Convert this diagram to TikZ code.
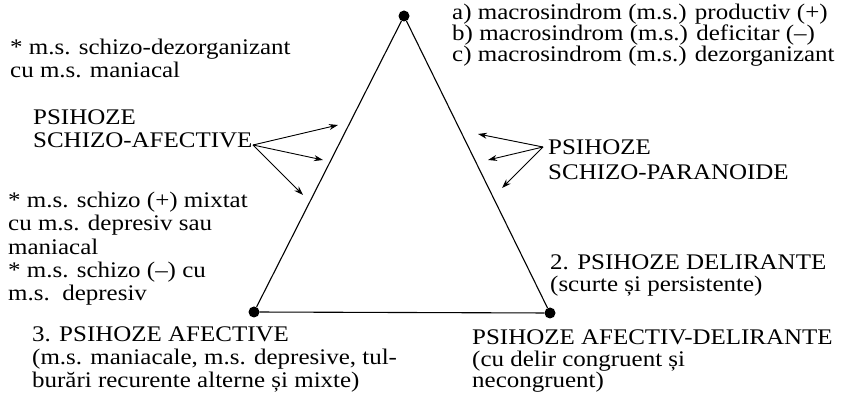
\documentclass[tikz,border=0pt]{standalone}
\usepackage{fontspec}
\setmainfont[FakeStretch=1.12]{Liberation Serif}
\usetikzlibrary{arrows.meta}

\tikzset{
  vertex/.style={circle, fill=black, inner sep=0pt, minimum size=11pt},
  lbl/.style={anchor=base west, inner sep=0pt, align=left,
              font=\fontsize{22.3}{23}\selectfont},
  side/.style={line width=1.1pt},
  pointer/.style={-{Stealth[length=9pt,width=6pt]}, line width=0.9pt},
}

\begin{document}
\begin{tikzpicture}[x=1pt, y=-1pt]
  \useasboundingbox (0,0) rectangle (844,403);

  % the three poles
  \node[vertex] (top)   at (404,16)  {};
  \node[vertex] (left)  at (254,312) {};
  \node[vertex] (right) at (550,313) {};
  \draw[side] (top) -- (left) -- (right) -- (top);

  % texts (anchored on the baseline of their last line)
  \node[lbl, font=\fontsize{22.3}{19}\selectfont] (macro) at (452,62)
    {a) macrosindrom (m.s.) productiv (+)\\
     b) macrosindrom (m.s.) deficitar (--)\\
     c) macrosindrom (m.s.) dezorganizant};
  \node[lbl] (dezorg) at (10,78) {* m.s. schizo-dezorganizant\\cu m.s. maniacal};
  \node[lbl] (schaf) at (33,148) {PSIHOZE\\SCHIZO-AFECTIVE};
  \node[lbl, font=\fontsize{22.3}{23.4}\selectfont] (mixt) at (8,301)
    {* m.s. schizo (+) mixtat\\cu m.s. depresiv sau\\maniacal\\
     * m.s. schizo (--) cu\\m.s.\ \ depresiv};
  \node[lbl, font=\fontsize{22.3}{25}\selectfont] (schpar) at (548,180) {PSIHOZE\\SCHIZO-PARANOIDE};
  \node[lbl, font=\fontsize{22.3}{22}\selectfont] (delir) at (550,292) {2. PSIHOZE DELIRANTE\\(scurte și persistente)};
  \node[lbl] (afect) at (32,388)
    {3. PSIHOZE AFECTIVE\\(m.s. maniacale, m.s. depresive, tul-\\burări recurente alterne și mixte)};
  \node[lbl, font=\fontsize{22.3}{21.5}\selectfont] (afdel) at (472,388)
    {PSIHOZE AFECTIV-DELIRANTE\\(cu delir congruent și\\necongruent)};

  % arrows to the sides
  \coordinate (saO) at (253,145);
  \coordinate (sa1) at (338,125);
  \coordinate (sa2) at (323,160);
  \coordinate (sa3) at (303,195);
  \coordinate (spO) at (543,147);
  \coordinate (sp1) at (478,134);
  \coordinate (sp2) at (488,160);
  \coordinate (sp3) at (502,188);
  \foreach \t in {sa1,sa2,sa3} \draw[pointer] (saO) -- (\t);
  \foreach \t in {sp1,sp2,sp3} \draw[pointer] (spO) -- (\t);
\end{tikzpicture}
\end{document}
